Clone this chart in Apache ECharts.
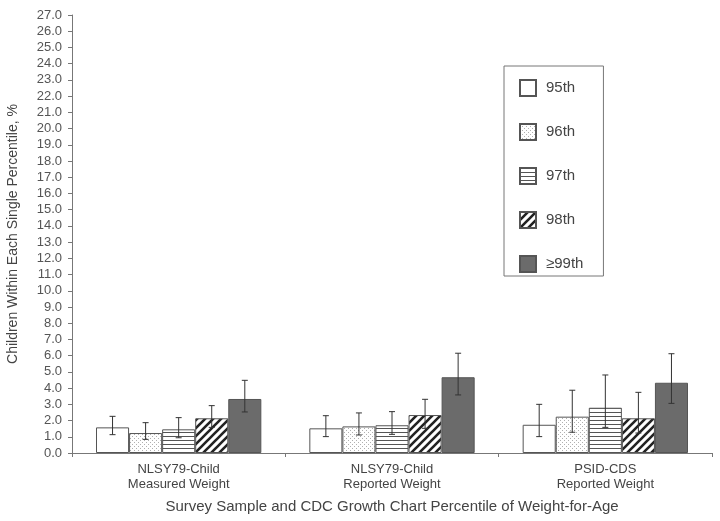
<!DOCTYPE html>
<html>
<head>
<meta charset="utf-8">
<script src="https://cdn.jsdelivr.net/npm/echarts@6/dist/echarts.min.js"></script>
<style>
  html, body { margin: 0; padding: 0; background: #fff; }
  #chart { width: 720px; height: 521px; }
</style>
</head>
<body>
<div id="chart"></div>
<script>
const categories = ['NLSY79-Child\nMeasured Weight', 'NLSY79-Child\nReported Weight', 'PSID-CDS\nReported Weight']
const seriesNames = ['95th', '96th', '97th', '98th', '≥99th']
const values = [
  [1.58, 1.52, 1.74],
  [1.23, 1.64, 2.24],
  [1.46, 1.71, 2.79],
  [2.14, 2.34, 2.14],
  [3.33, 4.67, 4.33]
]
const errLow = [
  [1.13, 1.01, 1.01],
  [0.84, 1.11, 1.28],
  [0.94, 1.15, 1.58],
  [1.58, 1.52, 1.23],
  [2.53, 3.58, 3.06]
]
const errHigh = [
  [2.26, 2.30, 3.00],
  [1.87, 2.47, 3.87],
  [2.18, 2.55, 4.81],
  [2.92, 3.31, 3.74],
  [4.48, 6.15, 6.12]
]

const GAP = 0.225
const FONT = 'Liberation Sans, Arial, sans-serif'

// pattern helpers
function makePattern (size, draw) {
  const c = document.createElement('canvas')
  c.width = size
  c.height = size
  const ctx = c.getContext('2d')
  ctx.fillStyle = '#fff'
  ctx.fillRect(0, 0, size, size)
  draw(ctx)
  return { image: c, repeat: 'repeat' }
}
const dotted = makePattern(4, ctx => {
  ctx.fillStyle = '#b0b0b0'
  ctx.fillRect(0, 0, 1, 1)
  ctx.fillRect(2, 2, 1, 1)
})
const hlines = makePattern(4, ctx => {
  ctx.fillStyle = '#555'
  ctx.fillRect(0, 0, 4, 1)
})
const diag = makePattern(8, ctx => {
  ctx.strokeStyle = '#222'
  ctx.lineWidth = 2.6
  ctx.beginPath()
  ctx.moveTo(-2, 10); ctx.lineTo(10, -2)
  ctx.moveTo(-2, 2); ctx.lineTo(2, -2)
  ctx.moveTo(6, 10); ctx.lineTo(10, 6)
  ctx.stroke()
})
const fills = ['#fff', dotted, hlines, diag, '#6b6b6b']

const barSeries = seriesNames.map((name, i) => ({
  name: name,
  type: 'bar',
  barGap: 0,
  barCategoryGap: (GAP * 100) + '%',
  itemStyle: { color: fills[i], borderColor: '#555', borderWidth: 1 },
  data: values[i]
}))

const errSeries = seriesNames.map((name, si) => ({
  type: 'custom',
  silent: true,
  z: 5,
  data: errLow[si].map((lo, ci) => [ci, lo, errHigh[si][ci]]),
  renderItem: (params, api) => {
    const base = api.coord([api.value(0), 0])
    const catW = api.size([1, 0])[0]
    const groupW = catW * (1 - GAP)
    const barW = groupW / seriesNames.length
    const cx = base[0] - groupW / 2 + barW * (si + 0.5)
    const yLo = api.coord([api.value(0), api.value(1)])[1]
    const yHi = api.coord([api.value(0), api.value(2)])[1]
    const cap = 3
    const st = { stroke: '#333', lineWidth: 1 }
    return {
      type: 'group',
      children: [
        { type: 'line', shape: { x1: cx, y1: yLo, x2: cx, y2: yHi }, style: st },
        { type: 'line', shape: { x1: cx - cap, y1: yHi, x2: cx + cap, y2: yHi }, style: st },
        { type: 'line', shape: { x1: cx - cap, y1: yLo, x2: cx + cap, y2: yLo }, style: st }
      ]
    }
  }
}))

const chart = echarts.init(document.getElementById('chart'))
chart.setOption({
  animation: false,
  textStyle: { fontFamily: FONT },
  grid: { left: 72, right: 8, top: 15, bottom: 68, containLabel: false, outerBoundsMode: 'none' },
  legend: {
    orient: 'vertical',
    left: 504,
    top: 66,
    width: 62,
    padding: [13, 20, 3, 15],
    itemGap: 26,
    itemWidth: 16,
    itemHeight: 16,
    icon: 'rect',
    borderColor: '#777',
    borderWidth: 1,
    data: seriesNames,
    textStyle: { fontSize: 15, color: '#444', fontFamily: FONT, padding: [0, 0, 0, 5] }
  },
  xAxis: {
    type: 'category',
    data: categories,
    name: 'Survey Sample and CDC Growth Chart Percentile of Weight-for-Age',
    nameLocation: 'middle',
    nameGap: 46,
    nameTextStyle: { fontSize: 15, color: '#444', fontFamily: FONT },
    axisLine: { lineStyle: { color: '#777' } },
    axisTick: { show: true, length: 4, lineStyle: { color: '#777' } },
    axisLabel: { fontSize: 13, color: '#444', lineHeight: 15, margin: 9 }
  },
  yAxis: {
    type: 'value',
    min: 0,
    max: 27,
    interval: 1,
    name: 'Children Within Each Single Percentile, %',
    nameLocation: 'middle',
    nameGap: 52,
    nameTextStyle: { fontSize: 14, color: '#444', fontFamily: FONT },
    axisLine: { show: true, lineStyle: { color: '#777' } },
    axisTick: { show: true, length: 4, lineStyle: { color: '#777' } },
    splitLine: { show: false },
    axisLabel: { fontSize: 13, color: '#555', margin: 10, formatter: v => v.toFixed(1) }
  },
  series: barSeries.concat(errSeries)
})
</script>
</body>
</html>
